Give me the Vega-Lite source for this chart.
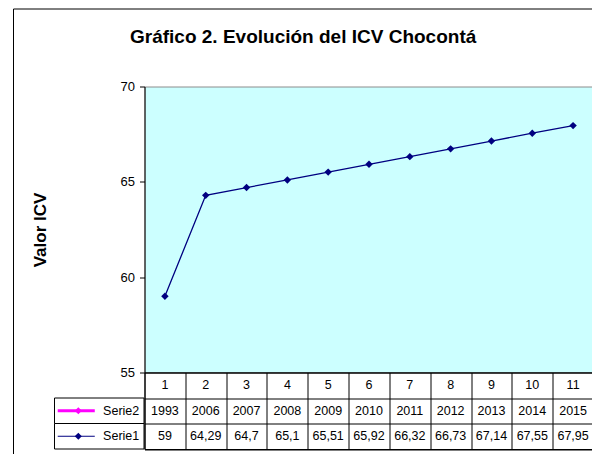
{
  "$schema": "https://vega.github.io/schema/vega-lite/v6.json",
  "autosize": "none",
  "padding": {"left": 54.5, "top": 86.5, "right": 537.5, "bottom": 367.5},
  "background": "white",
  "datasets": {
    "icv": [
      {"idx": 1, "Serie2": 1993, "Serie1": 59},
      {"idx": 2, "Serie2": 2006, "Serie1": 64.29},
      {"idx": 3, "Serie2": 2007, "Serie1": 64.7},
      {"idx": 4, "Serie2": 2008, "Serie1": 65.1},
      {"idx": 5, "Serie2": 2009, "Serie1": 65.51},
      {"idx": 6, "Serie2": 2010, "Serie1": 65.92},
      {"idx": 7, "Serie2": 2011, "Serie1": 66.32},
      {"idx": 8, "Serie2": 2012, "Serie1": 66.73},
      {"idx": 9, "Serie2": 2013, "Serie1": 67.14},
      {"idx": 10, "Serie2": 2014, "Serie1": 67.55},
      {"idx": 11, "Serie2": 2015, "Serie1": 67.95}
    ],
    "series": [{"serie": "Serie2"}, {"serie": "Serie1"}]
  },
  "columns": 2,
  "spacing": 0,
  "bounds": "flush",
  "resolve": {"scale": {"color": "independent"}, "legend": {"color": "independent"}},
  "concat": [
    {
      "width": 89.5,
      "height": 286,
      "data": {"values": []},
      "mark": {"type": "text"},
      "encoding": {},
      "view": {"stroke": null, "fill": null},
      "title": {
        "text": "Gráfico 2. Evolución del ICV Chocontá",
        "anchor": "start",
        "frame": "group",
        "dx": 75.5,
        "offset": 40,
        "font": "Liberation Sans",
        "fontSize": 19,
        "fontWeight": "bold",
        "color": "black"
      }
    },
    {
      "width": 449,
      "height": 286,
      "data": {"name": "icv"},
      "transform": [{"fold": ["Serie2", "Serie1"], "as": ["serie", "valor"]}],
      "view": {"fill": "#CCFFFF", "stroke": "#8C8C8C"},
      "encoding": {
        "x": {"field": "idx", "type": "ordinal", "axis": null},
        "y": {
          "field": "valor",
          "type": "quantitative",
          "scale": {"domain": [55, 70], "nice": false, "zero": false},
          "axis": {
            "values": [55, 60, 65, 70],
            "grid": false,
            "tickSize": 5,
            "tickColor": "black",
            "domainColor": "black",
            "labelFont": "Liberation Sans",
            "labelFontSize": 13,
            "labelColor": "black",
            "labelPadding": 5,
            "title": "Valor ICV",
            "titleFont": "Liberation Sans",
            "titleFontSize": 17,
            "titleFontWeight": "bold",
            "titleColor": "black",
            "titlePadding": 71
          }
        },
        "color": {
          "field": "serie",
          "type": "nominal",
          "scale": {"domain": ["Serie2", "Serie1"], "range": ["#FF00FF", "#000080"]},
          "legend": {
            "orient": "none",
            "legendX": -131.5,
            "legendY": -78,
            "title": null,
            "strokeColor": "black",
            "padding": 700,
            "symbolOpacity": 0,
            "labelOpacity": 0,
            "labelExpr": "''",
            "symbolSize": 1,
            "labelFontSize": 1
          }
        }
      },
      "layer": [
        {"mark": {"type": "line", "clip": true, "strokeWidth": 1.3}},
        {"mark": {"type": "point", "shape": "diamond", "filled": true, "size": 55, "opacity": 1, "clip": true}}
      ]
    },
    {
      "width": 89.5,
      "height": 76.5,
      "data": {"name": "series"},
      "view": {"stroke": null, "fill": null},
      "encoding": {
        "y": {
          "field": "serie",
          "type": "nominal",
          "scale": {"type": "band", "domain": ["idx", "Serie2", "Serie1"], "paddingInner": 0, "paddingOuter": 0},
          "axis": null
        }
      },
      "layer": [
        {
          "mark": {"type": "rect", "fill": "white", "stroke": "black", "strokeWidth": 1},
          "encoding": {
            "x": {"datum": 0, "type": "quantitative", "scale": {"domain": [0, 1], "nice": false, "zero": false}, "axis": null},
            "x2": {"datum": 1}
          }
        },
        {
          "mark": {"type": "rule"},
          "encoding": {
            "x": {"datum": 0.036, "type": "quantitative"},
            "x2": {"datum": 0.45},
            "color": {"field": "serie", "type": "nominal", "scale": {"domain": ["Serie2", "Serie1"], "range": ["#FF00FF", "#000080"]}, "legend": null},
            "strokeWidth": {"field": "serie", "type": "ordinal", "scale": {"domain": ["Serie2", "Serie1"], "range": [3, 1]}, "legend": null}
          }
        },
        {
          "mark": {"type": "point", "shape": "diamond", "filled": true, "size": 50, "opacity": 1},
          "encoding": {
            "x": {"datum": 0.266, "type": "quantitative"},
            "color": {"field": "serie", "type": "nominal", "scale": {"domain": ["Serie2", "Serie1"], "range": ["#FF00FF", "#000080"]}, "legend": null}
          }
        },
        {
          "mark": {"type": "text", "align": "right", "font": "Liberation Sans", "fontSize": 12.5, "color": "black"},
          "encoding": {
            "x": {"datum": 0.947, "type": "quantitative"},
            "text": {"field": "serie", "type": "nominal"}
          }
        }
      ]
    },
    {
      "width": 449,
      "height": 76.5,
      "data": {"name": "icv"},
      "transform": [{"fold": ["idx", "Serie2", "Serie1"], "as": ["fila", "valor"]}],
      "view": {"stroke": "black", "fill": "white"},
      "mark": {"type": "text", "font": "Liberation Sans", "fontSize": 12.5, "color": "black"},
      "encoding": {
        "x": {
          "field": "idx",
          "type": "ordinal",
          "scale": {"type": "band", "paddingInner": 0, "paddingOuter": 0},
          "axis": {"grid": true, "tickBand": "extent", "gridColor": "black", "gridOpacity": 1, "labels": false, "ticks": false, "domain": false, "title": null}
        },
        "y": {
          "field": "fila",
          "type": "nominal",
          "scale": {"type": "band", "domain": ["idx", "Serie2", "Serie1"], "paddingInner": 0, "paddingOuter": 0},
          "axis": {"grid": true, "tickBand": "extent", "gridColor": "black", "gridOpacity": 1, "labels": false, "ticks": false, "domain": false, "title": null}
        },
        "text": {"field": "valor", "type": "quantitative", "format": ""}
      }
    }
  ],
  "config": {
    "font": "Liberation Sans",
    "locale": {"number": {"decimal": ",", "thousands": ".", "grouping": [3], "currency": ["$", ""]}},
    "axis": {"labelFont": "Liberation Sans", "titleFont": "Liberation Sans"}
  }
}
